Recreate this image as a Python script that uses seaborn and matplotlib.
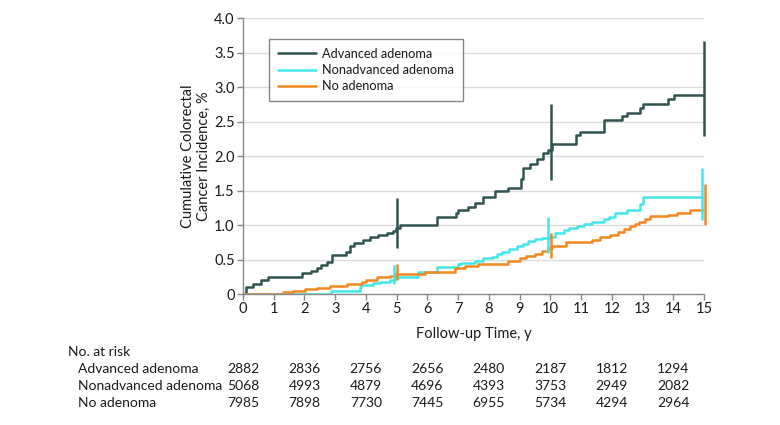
import matplotlib
matplotlib.use("Agg")
import matplotlib.pyplot as plt
import matplotlib.transforms as mtransforms
import numpy as np
import pandas as pd
import seaborn as sns

# ---------------- data ----------------
groups = ["Advanced adenoma", "Nonadvanced adenoma", "No adenoma"]

adv_t = [0, 0.1, 0.34, 0.6, 0.82, 1.91, 2.21, 2.42, 2.55, 2.72, 2.89, 3.35, 3.48, 3.6, 3.92,
         4.13, 4.4, 4.68, 4.89, 4.97, 5.1, 6.32, 6.93, 7.0, 7.31, 7.55, 7.82, 8.2, 8.63, 9.05,
         9.12, 9.34, 9.56, 9.77, 9.93, 10.05, 10.84, 10.95, 11.73, 12.32, 12.51, 12.92, 13.0,
         13.84, 14.03, 15.0]
adv_v = [0, 0.1, 0.15, 0.2, 0.25, 0.30, 0.33, 0.37, 0.42, 0.47, 0.56, 0.61, 0.69, 0.74, 0.78,
         0.82, 0.85, 0.88, 0.92, 0.96, 1.0, 1.11, 1.18, 1.22, 1.26, 1.32, 1.41, 1.49, 1.53, 1.67,
         1.82, 1.89, 1.96, 2.04, 2.09, 2.18, 2.31, 2.35, 2.52, 2.58, 2.63, 2.69, 2.75,
         2.82, 2.89, 2.89]

non_t = [0, 2.88, 3.8, 3.85, 4.24, 4.46, 4.78, 4.95, 5.05, 5.7, 6.3, 7.0, 7.1, 7.55, 7.8, 8.09,
         8.25, 8.42, 8.65, 8.9, 9.1, 9.28, 9.5, 9.72, 10.0, 10.15, 10.43, 10.6, 10.86, 11.1,
         11.35, 11.73, 11.9, 12.1, 12.49, 12.92, 13.03, 14.95]
non_v = [0, 0.05, 0.1, 0.13, 0.155, 0.18, 0.2, 0.23, 0.25, 0.32, 0.39, 0.43, 0.45, 0.48, 0.52,
         0.54, 0.58, 0.61, 0.65, 0.70, 0.73, 0.77, 0.80, 0.81, 0.83, 0.88, 0.93, 0.96, 0.99,
         1.01, 1.05, 1.08, 1.11, 1.17, 1.22, 1.30, 1.40, 1.40]

no_t = [0, 1.29, 1.64, 2.02, 2.4, 2.83, 3.37, 3.86, 4.0, 4.35, 4.78, 4.95, 5.92, 6.9, 7.22,
        7.66, 8.63, 9.01, 9.2, 9.5, 9.72, 9.93, 10.05, 10.51, 11.35, 11.6, 11.94, 12.21, 12.4,
        12.6, 12.76, 12.9, 13.08, 13.24, 13.84, 14.11, 14.55, 15.0]
no_v = [0, 0.03, 0.05, 0.07, 0.09, 0.116, 0.145, 0.18, 0.21, 0.25, 0.265, 0.29, 0.32, 0.37,
        0.41, 0.44, 0.48, 0.52, 0.55, 0.58, 0.63, 0.66, 0.69, 0.75, 0.79, 0.82, 0.85, 0.90,
        0.94, 0.98, 1.01, 1.05, 1.08, 1.13, 1.15, 1.18, 1.22, 1.22]

# confidence interval bars
adv_ci_t = [5.0, 10.03, 15.0]
adv_ci_lo = [0.66, 1.65, 2.29]
adv_ci_hi = [1.39, 2.76, 3.66]
non_ci_t = [4.92, 9.91, 14.93]
non_ci_lo = [0.14, 0.60, 1.07]
non_ci_hi = [0.42, 1.12, 1.82]
no_ci_t = [5.02, 10.01, 15.03]
no_ci_lo = [0.20, 0.52, 1.00]
no_ci_hi = [0.44, 0.88, 1.59]

xticks = list(range(0, 16))
yticks = [0, 0.5, 1.0, 1.5, 2.0, 2.5, 3.0, 3.5, 4.0]
ytick_labels = ["0", "0.5", "1.0", "1.5", "2.0", "2.5", "3.0", "3.5", "4.0"]

risk_times = [0, 2, 4, 6, 8, 10, 12, 14]
risk_adv = [2882, 2836, 2756, 2656, 2480, 2187, 1812, 1294]
risk_non = [5068, 4993, 4879, 4696, 4393, 3753, 2949, 2082]
risk_no = [7985, 7898, 7730, 7445, 6955, 5734, 4294, 2964]

# ---------------- style ----------------
sns.set_theme(style="white")
plt.rcParams["font.family"] = ["Lato", "DejaVu Sans"]

colors = {"Advanced adenoma": "#2F5450",
          "Nonadvanced adenoma": "#45E6EA",
          "No adenoma": "#F2881F"}
text_col = "#1a1a1a"
fs = 10

df = pd.concat([
    pd.DataFrame({"time": adv_t, "inc": adv_v, "group": groups[0]}),
    pd.DataFrame({"time": non_t, "inc": non_v, "group": groups[1]}),
    pd.DataFrame({"time": no_t, "inc": no_v, "group": groups[2]}),
], ignore_index=True)

fig = plt.figure(figsize=(7.8, 4.25), dpi=100)
ax = fig.add_axes([0.3115, 0.3082, 0.5911, 0.6494])

for y in yticks[1:]:
    ax.axhline(y, color="#dcdcdc", lw=1.0, zorder=0)

sns.lineplot(data=df, x="time", y="inc", hue="group", hue_order=groups,
             palette=colors, estimator=None, sort=False, drawstyle="steps-post",
             linewidth=1.8, ax=ax, legend=True)

for ci_t, lo, hi, g in [(adv_ci_t, adv_ci_lo, adv_ci_hi, groups[0]),
                        (non_ci_t, non_ci_lo, non_ci_hi, groups[1]),
                        (no_ci_t, no_ci_lo, no_ci_hi, groups[2])]:
    ax.vlines(ci_t, lo, hi, color=colors[g], lw=1.8, zorder=3, clip_on=False)

ax.set_xlim(0, 15)
ax.set_ylim(0, 4.0)
ax.set_xticks(xticks)
ax.set_xticklabels([str(t) for t in xticks])
ax.set_yticks(yticks)
ax.set_yticklabels(ytick_labels)
ax.tick_params(axis="both", direction="out", length=4, width=1, color="#888888",
               labelsize=fs + 0.5, labelcolor=text_col, pad=2,
               bottom=True, left=True)
for s in ["top", "right"]:
    ax.spines[s].set_visible(False)
for s in ["left", "bottom"]:
    ax.spines[s].set_color("#888888")
    ax.spines[s].set_linewidth(1.0)

ax.set_xlabel("Follow-up Time, y", fontsize=fs + 0.5, color=text_col, labelpad=8)
ax.set_ylabel("Cumulative Colorectal\nCancer Incidence, %", fontsize=fs + 0.5,
              color=text_col, labelpad=2)

leg = ax.legend(loc="upper left", bbox_to_anchor=(0.056, 0.924), borderaxespad=0,
                frameon=True, fancybox=False, edgecolor="#666666", fontsize=9.2,
                handlelength=3.0, handletextpad=0.5, borderpad=0.7, labelspacing=0.33)
leg.get_frame().set_linewidth(1.0)
for t in leg.get_texts():
    t.set_color(text_col)

# number at risk table
trans = mtransforms.blended_transform_factory(ax.transData, fig.transFigure)
fig.text(68 / 780, 1 - 352 / 425, "No. at risk", fontsize=fs, color=text_col,
         ha="left", va="center")
rows = [(groups[0], risk_adv), (groups[1], risk_non), (groups[2], risk_no)]
row_y = [369, 386, 403]
for (name, vals), py in zip(rows, row_y):
    yf = 1 - py / 425
    fig.text(78 / 780, yf, name, fontsize=fs, color=text_col, ha="left", va="center")
    for t, v in zip(risk_times, vals):
        ax.text(t, yf, str(v), transform=trans, fontsize=fs, color=text_col,
                ha="center", va="center", clip_on=False)

fig.savefig("out.png", dpi=100)
